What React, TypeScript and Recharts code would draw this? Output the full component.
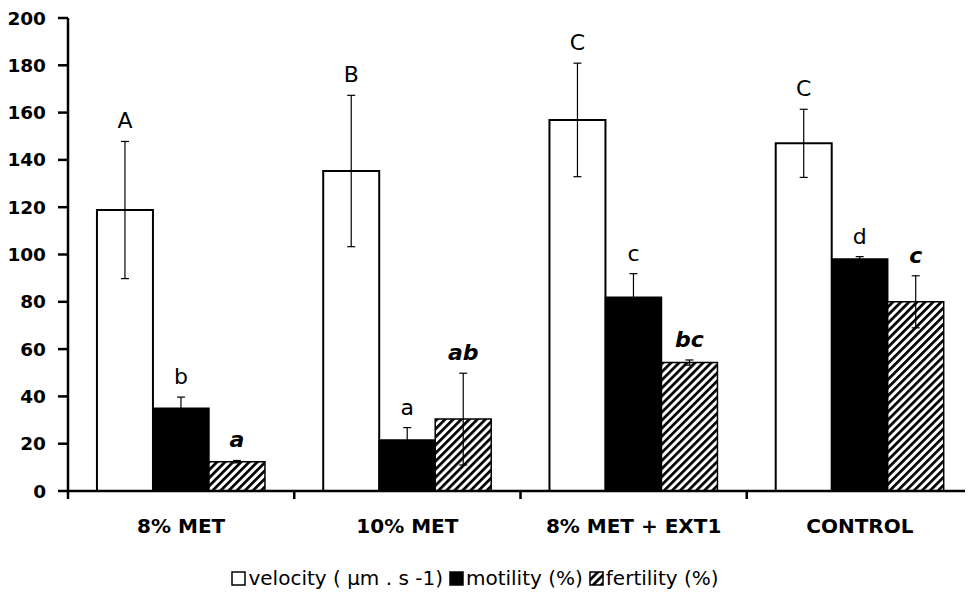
import React from "react";
import { BarChart, Bar, XAxis, YAxis, ErrorBar, LabelList, Legend } from "recharts";

const FONT = "'DejaVu Sans', 'Liberation Sans', Arial, sans-serif";

const categories = ["8% MET", "10% MET", "8% MET + EXT1", "CONTROL"];
const velocity = [118.8, 135.3, 156.9, 147.0];
const velocityErr = [29, 32, 24, 14.4];
const motility = [35.0, 21.6, 81.9, 98.1];
const motilityErr = [4.7, 5.2, 10, 1];
const fertility = [12.4, 30.4, 54.3, 80.0];
const fertilityErr = [0.5, 19.4, 1.1, 11];
const velocityLetters = ["A", "B", "C", "C"];
const motilityLetters = ["b", "a", "c", "d"];
const fertilityLetters = ["a", "ab", "bc", "c"];
const yTicks = [0, 20, 40, 60, 80, 100, 120, 140, 160, 180, 200];

const data = categories.map((name, i) => ({
  name,
  velocity: velocity[i],
  velocityErr: velocityErr[i],
  motility: motility[i],
  motilityErr: motilityErr[i],
  fertility: fertility[i],
  fertilityErr: fertilityErr[i],
}));

const TICK_SIZE = 8;
const TICK_MARGIN = 20;

// letter above the top of the error bar
const makeLetter = (letters: string[], values: number[], errs: number[], italic: boolean) =>
  (props: any) => {
    const { x, y, width, height, index } = props;
    const pxPerUnit = height / values[index];
    const top = y - errs[index] * pxPerUnit;
    return (
      <text
        x={x + width / 2}
        y={top - 13}
        textAnchor="middle"
        fontFamily={FONT}
        fontSize={22}
        fontWeight={italic ? "bold" : "normal"}
        fontStyle={italic ? "italic" : "normal"}
        fill="#000"
      >
        {letters[index]}
      </text>
    );
  };

// category label plus tick mark at the left edge of the category
const CategoryTick = (props: any) => {
  const { x, y, payload, width } = props;
  const band = (width || 905) / categories.length;
  const axisY = y - TICK_SIZE - TICK_MARGIN;
  const left = x - band / 2;
  return (
    <g>
      <line x1={left} x2={left} y1={axisY} y2={axisY + TICK_SIZE} stroke="#000" strokeWidth={2.5} />
      <text
        x={x}
        y={y}
        dy="0.71em"
        textAnchor="middle"
        fontFamily={FONT}
        fontSize={20}
        fontWeight="bold"
        fill="#000"
      >
        {payload.value}
      </text>
    </g>
  );
};

const Swatch = ({ fill, stroke }: { fill: string; stroke?: string }) => (
  <svg width={15} height={15} style={{ marginRight: 2 }}>
    <rect x={1} y={1} width={13} height={13} fill={fill} stroke={stroke || "#000"} strokeWidth={1.5} />
  </svg>
);

const LegendContent = () => (
  <div
    style={{
      display: "flex",
      justifyContent: "center",
      alignItems: "center",
      fontFamily: FONT,
      fontSize: 20,
      color: "#000",
      height: 30,
      whiteSpace: "nowrap",
    }}
  >
    <Swatch fill="#fff" />
    <span style={{ marginRight: 6 }}>velocity ( μm . s -1)</span>
    <Swatch fill="#000" />
    <span style={{ marginRight: 6 }}>motility (%)</span>
    <Swatch fill="url(#hatch)" />
    <span>fertility (%)</span>
  </div>
);

export default function App() {
  return (
    <div style={{ margin: -8, width: 973, height: 597, background: "#fff" }}>
      <BarChart
        width={973}
        height={597}
        data={data}
        margin={{ top: 18, right: 0, bottom: 0, left: 0 }}
        barCategoryGap="12.8%"
        barGap={0}
      >
        <defs>
          <pattern id="hatch" patternUnits="userSpaceOnUse" width={5.7} height={5.7} patternTransform="rotate(45)">
            <rect x={0} y={0} width={5.7} height={5.7} fill="#fff" />
            <rect x={0} y={0} width={2.7} height={5.7} fill="#000" />
          </pattern>
        </defs>
        <XAxis
          dataKey="name"
          height={76}
          interval={0}
          axisLine={{ stroke: "#000", strokeWidth: 2.5 }}
          tickLine={false}
          tickSize={TICK_SIZE}
          tickMargin={TICK_MARGIN}
          tick={<CategoryTick />}
        />
        <YAxis
          domain={[0, 200]}
          ticks={yTicks}
          interval={0}
          width={68}
          tickSize={10}
          tickMargin={12}
          axisLine={{ stroke: "#000", strokeWidth: 2.5 }}
          tickLine={{ stroke: "#000", strokeWidth: 2.5 }}
          tick={{ fill: "#000", fontSize: 18.5, fontWeight: "bold", fontFamily: FONT }}
        />
        <Legend
          verticalAlign="bottom"
          height={30}
          content={<LegendContent />}
          wrapperStyle={{ left: 0, width: 950, top: 563 }}
        />
        <Bar dataKey="velocity" fill="#fff" stroke="#000" strokeWidth={2} isAnimationActive={false}>
          <ErrorBar dataKey="velocityErr" width={4} stroke="#000" strokeWidth={1.2} />
          <LabelList dataKey="velocity" content={makeLetter(velocityLetters, velocity, velocityErr, false)} />
        </Bar>
        <Bar dataKey="motility" fill="#000" stroke="#000" strokeWidth={1.5} isAnimationActive={false}>
          <ErrorBar dataKey="motilityErr" width={4} stroke="#000" strokeWidth={1.2} />
          <LabelList dataKey="motility" content={makeLetter(motilityLetters, motility, motilityErr, false)} />
        </Bar>
        <Bar dataKey="fertility" fill="url(#hatch)" stroke="#000" strokeWidth={1.5} isAnimationActive={false}>
          <ErrorBar dataKey="fertilityErr" width={4} stroke="#000" strokeWidth={1.2} />
          <LabelList dataKey="fertility" content={makeLetter(fertilityLetters, fertility, fertilityErr, true)} />
        </Bar>
      </BarChart>
    </div>
  );
}
